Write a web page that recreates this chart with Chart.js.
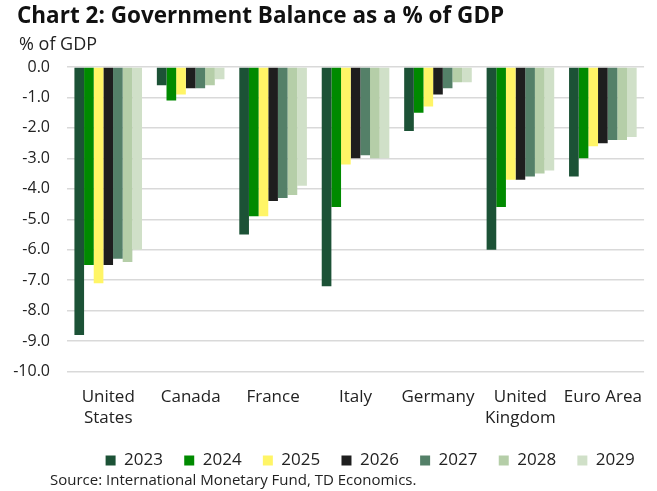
<!DOCTYPE html>
<html>
<head>
<meta charset="utf-8">
<script src="https://cdn.jsdelivr.net/npm/chart.js@4/dist/chart.umd.min.js"></script>
<style>
    html, body { margin: 0; padding: 0; background: #fff; }
    #wrap { width: 657px; height: 491px; position: relative; }
</style>
</head>
<body>
<div id="wrap"><canvas id="balanceChart"></canvas></div>
<script>
const countries = [['United', 'States'], 'Canada', 'France', 'Italy', 'Germany', ['United', 'Kingdom'], 'Euro Area'];
const years = ['2023', '2024', '2025', '2026', '2027', '2028', '2029'];

// government balance, % of GDP, one array per year (same order as countries)
const bal2023 = [-8.8, -0.6, -5.5, -7.2, -2.1, -6.0, -3.6];
const bal2024 = [-6.5, -1.1, -4.9, -4.6, -1.5, -4.6, -3.0];
const bal2025 = [-7.1, -0.9, -4.9, -3.2, -1.3, -3.7, -2.6];
const bal2026 = [-6.5, -0.7, -4.4, -3.0, -0.9, -3.7, -2.5];
const bal2027 = [-6.3, -0.7, -4.3, -2.9, -0.7, -3.6, -2.4];
const bal2028 = [-6.4, -0.6, -4.2, -3.0, -0.5, -3.5, -2.4];
const bal2029 = [-6.0, -0.4, -3.9, -3.0, -0.5, -3.4, -2.3];

const yearColors = ['#1c5236', '#008a00', '#fff566', '#1e1e1e', '#548068', '#b5cea8', '#d0e0c8'];
const allValues = [bal2023, bal2024, bal2025, bal2026, bal2027, bal2028, bal2029];

const datasets = years.map((yr, i) => ({
    label: yr,
    data: allValues[i],
    backgroundColor: yearColors[i],
    borderWidth: 0,
    categoryPercentage: 0.82,
    barPercentage: 1.0
}));

const FONT = '"Open Sans", "Noto Sans", sans-serif';

// title, unit label and source line (drawn in the reserved padding)
const chartText = {
    id: 'chartText',
    afterDraw(chart) {
        const ctx = chart.ctx;
        ctx.save();
        ctx.textBaseline = 'middle';
        ctx.fillStyle = '#111';
        ctx.font = 'bold 22.5px ' + FONT;
        ctx.fillText('Chart 2: Government Balance as a % of GDP', 17, 17);
        ctx.fillStyle = '#222';
        ctx.font = '18px ' + FONT;
        ctx.fillText('% of GDP', 19, 45);
        ctx.font = '15px ' + FONT;
        ctx.fillText('Source: International Monetary Fund, TD Economics.', 50, 481);
        ctx.restore();
    }
};

new Chart(document.getElementById('balanceChart'), {
    type: 'bar',
    data: { labels: countries, datasets: datasets },
    plugins: [chartText],
    options: {
        responsive: true,
        maintainAspectRatio: false,
        animation: false,
        layout: { padding: { left: 8, right: 1, top: 67, bottom: 12 } },
        plugins: {
            legend: {
                position: 'bottom',
                align: 'end',
                labels: {
                    boxWidth: 10,
                    boxHeight: 10,
                    padding: 8,
                    color: '#222',
                    font: { family: FONT, size: 17 },
                    // small vertical padding, so widen each item with trailing spaces instead
                    generateLabels: chart =>
                        Chart.defaults.plugins.legend.labels.generateLabels(chart)
                            .map(item => ({ ...item, text: item.text + '   ' }))
                }
            },
            tooltip: { enabled: false }
        },
        scales: {
            x: {
                grid: { display: false, drawTicks: false },
                border: { display: false },
                ticks: {
                    color: '#222',
                    font: { family: FONT, size: 17, lineHeight: 1.25 },
                    maxRotation: 0,
                    autoSkip: false,
                    padding: 15
                }
            },
            y: {
                min: -10,
                max: 0,
                border: { display: false },
                grid: { color: '#d9d9d9', lineWidth: 1.5, drawTicks: false },
                ticks: {
                    stepSize: 1,
                    color: '#222',
                    padding: 17,
                    font: { family: FONT, size: 16 },
                    callback: v => v.toFixed(1)
                },
                afterFit: scale => { scale.width = 59; }
            }
        }
    }
});
</script>
</body>
</html>
